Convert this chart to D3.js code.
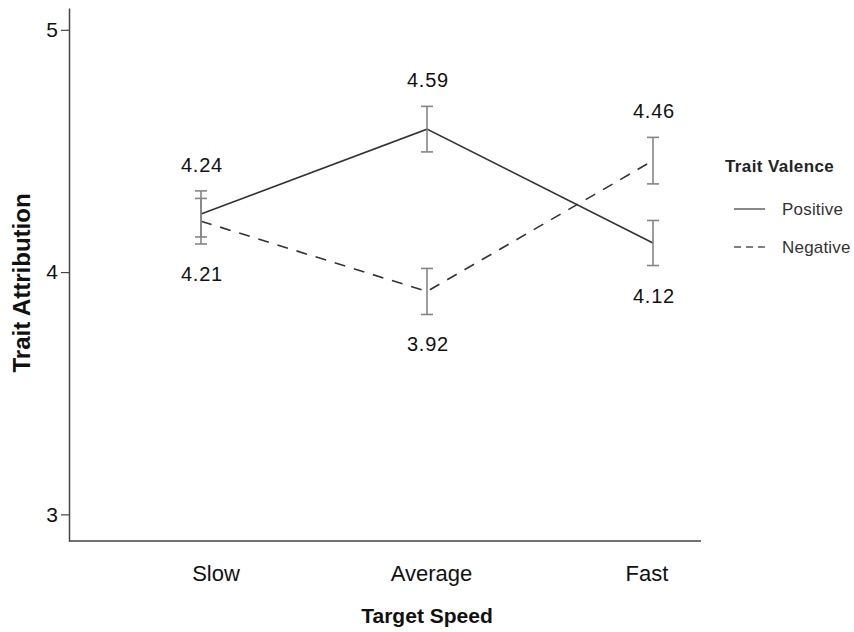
<!DOCTYPE html>
<html>
<head>
<meta charset="utf-8">
<script src="https://cdn.jsdelivr.net/npm/d3@7"></script>
<style>
  body { margin: 0; background: #fff; }
  svg { display: block; font-family: "Liberation Sans", Arial, sans-serif; }
</style>
</head>
<body>
<script>
// data
var speeds = ["Slow", "Average", "Fast"]
var positive = [4.24, 4.59, 4.12]
var negative = [4.21, 3.92, 4.46]
var positiveErr = [0.095, 0.094, 0.093]
var negativeErr = [0.094, 0.095, 0.096]
var yTicks = [3, 4, 5]
var seriesNames = ["Positive", "Negative"]

var svg = d3.select("body").append("svg")
  .attr("width", 854)
  .attr("height", 632)

var x = d3.scalePoint().domain(speeds).range([201, 653])
// category labels sit a little off the points in the original
var xLab = d3.scalePoint().domain(speeds).range([216, 647])
var y = d3.scaleLinear().domain([2.89, 5.09]).range([541, 8])

var series = [
  {name: seriesNames[0], values: positive, err: positiveErr, dash: null},
  {name: seriesNames[1], values: negative, err: negativeErr, dash: "11,9"}
]

// y axis
var yAxis = svg.append("g")
  .attr("transform", "translate(69,0)")
  .call(d3.axisLeft(y).tickValues(yTicks).tickFormat(d3.format("d"))
    .tickSize(8).tickSizeOuter(0).tickPadding(3))

yAxis.select(".domain").attr("stroke", "#444").attr("stroke-width", 1.5)
yAxis.selectAll(".tick line").attr("stroke", "#444").attr("stroke-width", 1.2)
yAxis.selectAll(".tick text")
  .attr("font-size", 21)
  .attr("fill", "#111")
  .style("font-family", "Liberation Sans, Arial, sans-serif")

// x axis line
svg.append("line")
  .attr("x1", 69)
  .attr("x2", 701)
  .attr("y1", y(2.89))
  .attr("y2", y(2.89))
  .attr("stroke", "#444")
  .attr("stroke-width", 1.5)

svg.selectAll("text.xlab")
  .data(speeds)
  .enter()
  .append("text")
  .classed("xlab", true)
  .attr("x", function(d){ return xLab(d) })
  .attr("y", 581)
  .attr("text-anchor", "middle")
  .attr("font-size", 22)
  .attr("fill", "#111")
  .text(function(d){ return d })

// axis titles
svg.append("text")
  .attr("x", 427)
  .attr("y", 623)
  .attr("text-anchor", "middle")
  .attr("font-size", 21)
  .attr("font-weight", "bold")
  .attr("fill", "#111")
  .text("Target Speed")

svg.append("text")
  .attr("transform", "translate(30,283) rotate(-90)")
  .attr("text-anchor", "middle")
  .attr("font-size", 24)
  .attr("font-weight", "bold")
  .attr("fill", "#111")
  .text("Trait Attribution")

// lines
var line = d3.line()
  .x(function(d, i){ return x(speeds[i]) })
  .y(function(d){ return y(d) })

series.forEach(function(s){
  svg.append("path")
    .datum(s.values)
    .attr("d", line)
    .attr("fill", "none")
    .attr("stroke", "#333")
    .attr("stroke-width", 1.6)
    .attr("stroke-dasharray", s.dash)
})

// error bars
series.forEach(function(s){
  var g = svg.append("g").selectAll("g")
    .data(s.values)
    .enter()
    .append("g")
    .attr("stroke", "#858585")
    .attr("stroke-width", 1.6)

  g.append("line")
    .attr("x1", function(d, i){ return x(speeds[i]) })
    .attr("x2", function(d, i){ return x(speeds[i]) })
    .attr("y1", function(d, i){ return y(d + s.err[i]) })
    .attr("y2", function(d, i){ return y(d - s.err[i]) })

  g.append("line")
    .attr("x1", function(d, i){ return x(speeds[i]) - 6 })
    .attr("x2", function(d, i){ return x(speeds[i]) + 6 })
    .attr("y1", function(d, i){ return y(d + s.err[i]) })
    .attr("y2", function(d, i){ return y(d + s.err[i]) })

  g.append("line")
    .attr("x1", function(d, i){ return x(speeds[i]) - 6 })
    .attr("x2", function(d, i){ return x(speeds[i]) + 6 })
    .attr("y1", function(d, i){ return y(d - s.err[i]) })
    .attr("y2", function(d, i){ return y(d - s.err[i]) })
})

// value labels: higher series above its bar, lower series below
var labels = []
speeds.forEach(function(c, i){
  var p = {v: positive[i], e: positiveErr[i], c: c}
  var n = {v: negative[i], e: negativeErr[i], c: c}
  var hi = p.v >= n.v ? p : n
  var lo = p.v >= n.v ? n : p
  labels.push({c: c, v: hi.v, y: y(hi.v + hi.e) - 19})
  labels.push({c: c, v: lo.v, y: y(lo.v - lo.e) + 37})
})

svg.selectAll("text.value")
  .data(labels)
  .enter()
  .append("text")
  .classed("value", true)
  .attr("x", function(d){ return x(d.c) + 1 })
  .attr("y", function(d){ return d.y })
  .attr("text-anchor", "middle")
  .attr("font-size", 20)
  .attr("letter-spacing", 0.8)
  .attr("fill", "#111")
  .text(function(d){ return d3.format(".2f")(d.v) })

// legend
var legend = svg.append("g").attr("transform", "translate(725,0)")

legend.append("text")
  .attr("x", 0)
  .attr("y", 172)
  .attr("font-size", 17)
  .attr("font-weight", "bold")
  .attr("letter-spacing", 0.4)
  .attr("fill", "#222")
  .text("Trait Valence")

var item = legend.selectAll("g.item")
  .data(series)
  .enter()
  .append("g")
  .classed("item", true)
  .attr("transform", function(d, i){ return "translate(0," + (209 + i * 38) + ")" })

item.append("line")
  .attr("x1", 9)
  .attr("x2", 40)
  .attr("stroke", "#555")
  .attr("stroke-width", 1.4)
  .attr("stroke-dasharray", function(d){ return d.dash ? "7,5" : null })

item.append("text")
  .attr("x", 57)
  .attr("y", 6)
  .attr("font-size", 17)
  .attr("letter-spacing", 0.2)
  .attr("fill", "#333")
  .text(function(d){ return d.name })
</script>
</body>
</html>
